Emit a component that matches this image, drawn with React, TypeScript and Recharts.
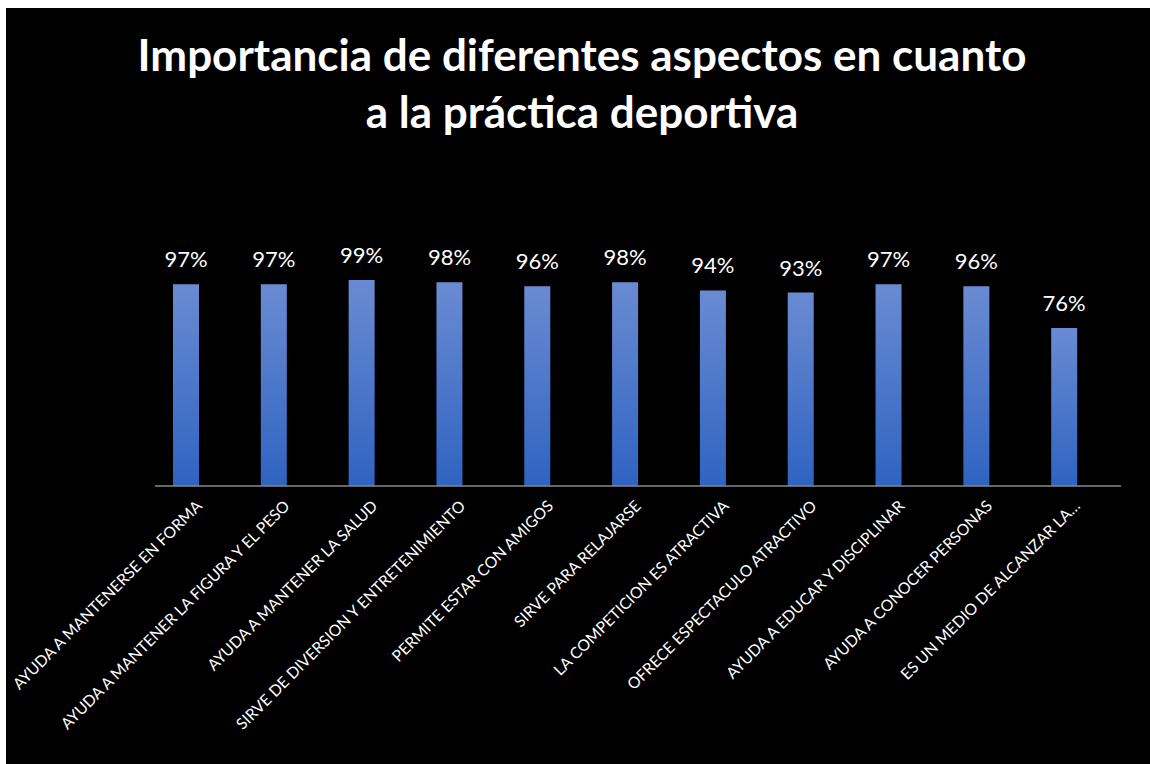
import { Bar, BarChart, LabelList, XAxis, YAxis } from "recharts";

const categories = [
  "AYUDA A MANTENERSE EN FORMA",
  "AYUDA A MANTENER LA FIGURA Y EL PESO",
  "AYUDA A MANTENER LA SALUD",
  "SIRVE DE DIVERSION Y ENTRETENIMIENTO",
  "PERMITE ESTAR CON AMIGOS",
  "SIRVE PARA RELAJARSE",
  "LA COMPETICION ES ATRACTIVA",
  "OFRECE ESPECTACULO ATRACTIVO",
  "AYUDA A EDUCAR Y DISCIPLINAR",
  "AYUDA A CONOCER PERSONAS",
  "ES UN MEDIO DE ALCANZAR LA…",
];
const shares = [0.97, 0.97, 0.99, 0.98, 0.96, 0.98, 0.94, 0.93, 0.97, 0.96, 0.76];

const data = categories.map((name, i) => ({ name, value: shares[i] }));

const font = "Lato, 'Open Sans', sans-serif";

function AngledTick({ x, y, payload }: any) {
  const tx = x + 17;
  const ty = y + 21;
  return (
    <text
      x={tx}
      y={ty}
      textAnchor="end"
      fill="#ffffff"
      fontFamily={font}
      fontSize={15.7}
      transform={`rotate(-45 ${tx} ${ty})`}
    >
      {payload.value}
    </text>
  );
}

export default function App() {
  return (
    <div style={{ position: "fixed", left: 6, top: 8, right: 0, bottom: 0, background: "#000", overflow: "hidden" }}>
      <div
        style={{
          position: "absolute",
          left: 0,
          top: 0,
          width: 1152,
          color: "#fff",
          fontFamily: font,
          fontWeight: 700,
          fontSize: 44,
          textAlign: "center",
          lineHeight: "57px",
          paddingTop: 18,
        }}
      >
        <div>Importancia de diferentes aspectos en cuanto</div>
        <div>a la práctica deportiva</div>
      </div>
      <BarChart
        width={1144}
        height={756}
        data={data}
        margin={{ top: 270, right: 29, bottom: 78, left: 149 }}
        style={{ position: "absolute", left: 0, top: 0 }}
      >
        <defs>
          <linearGradient id="barFill" x1="0" y1="0" x2="0" y2="1">
            <stop offset="0%" stopColor="#6a8bd2" />
            <stop offset="100%" stopColor="#2f63c1" />
          </linearGradient>
        </defs>
        <XAxis
          dataKey="name"
          height={200}
          interval={0}
          tickLine={false}
          tickSize={0}
          tickMargin={0}
          padding={{ left: -13, right: 13 }}
          axisLine={{ stroke: "#898989", strokeWidth: 1.5 }}
          tick={<AngledTick />}
        />
        <YAxis hide domain={[0, 1]} />
        <Bar dataKey="value" barSize={26} fill="url(#barFill)" isAnimationActive={false}>
          <LabelList
            dataKey="value"
            position="top"
            offset={17}
            fill="#ffffff"
            fontFamily={font}
            fontSize={22}
            formatter={(v: any) => `${Math.round(Number(v) * 100)}%`}
          />
        </Bar>
      </BarChart>
    </div>
  );
}
